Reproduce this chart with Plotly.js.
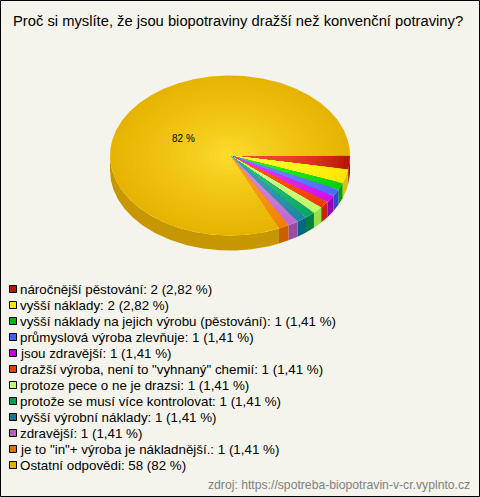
<!DOCTYPE html>
<html><head><meta charset="utf-8">
<script src="https://cdn.plot.ly/plotly-3.0.1.min.js"></script>
<style>html,body{margin:0;padding:0;background:#f4f4ec}#c{width:480px;height:497px}</style>
</head><body><div id="c"></div>
<script>
const categories = ['náročnější pěstování','vyšší náklady','vyšší náklady na jejich výrobu (pěstování)','průmyslová výroba zlevňuje','jsou zdravější','dražší výroba, není to "vyhnaný" chemií','protoze pece o ne je drazsi','protože se musí více kontrolovat','vyšší výrobní náklady','zdravější','je to "in"+ výroba je nákladnější.','Ostatní odpovědi'];
const counts = [2,2,1,1,1,1,1,1,1,1,1,58];
const shares = ['2,82','2,82','1,41','1,41','1,41','1,41','1,41','1,41','1,41','1,41','1,41','82'];
const edgeColors = ['#bb1500','#ffe600','#08d008','#4a6cff','#cc10ec','#f03c00','#c0ff68','#08a860','#1c88a0','#c068d0','#f08000','#e6b400'];
const midColors = ['#ee4a2c','#ffff30','#30ec30','#6a8cff','#e438fa','#ff5a18','#d0ff88','#30c080','#40a0b8','#d488e0','#ffa020','#ffe030'];
const sideColors = ['#a81200','#d8c400','#00a000','#2a48d0','#9c00b4','#c02800','#98e048','#008040','#006880','#9c4ca8','#c86000','#c79700'];
const swatchColors = ['#b81800','#ffe600','#00b800','#4060ff','#c000d8','#e04000','#c0ff70','#00a050','#107890','#b860c0','#e07000','#e6b000'];
const gradientCurve = [2.6,1.7,1.7,1.7,1.7,1.7,1.7,1.7,1.7,1.7,1.7,0.8];
const titleText = 'Proč si myslíte, že jsou biopotraviny dražší než konvenční potraviny?';
const sourceText = 'zdroj: https://spotreba-biopotravin-v-cr.vyplnto.cz';
const pieLabel = '82 %';

const cx=230, cy=155.5, rx=120, ry=80, depth=15, rings=22;
const total = counts.reduce((a,b)=>a+b,0);
function hex(c){return [1,3,5].map(i=>parseInt(c.substr(i,2),16));}
function mix(a,b,t){const A=hex(a),B=hex(b);return 'rgb('+A.map((v,i)=>Math.round(v+(B[i]-v)*t)).join(',')+')';}
function arc(a0,a1,r,dy){const n=Math.max(2,Math.ceil((a1-a0)/0.01));const p=[];for(let i=0;i<=n;i++){const t=a0+(a1-a0)*i/n;p.push([cx+rx*r*Math.cos(t),cy+dy+ry*r*Math.sin(t)]);}return p;}
const traces=[];
function poly(pts,color){traces.push({type:'scatter',mode:'lines',x:pts.map(p=>p[0]),y:pts.map(p=>p[1]),fill:'toself',fillcolor:color,line:{width:0},hoverinfo:'skip',showlegend:false});}
let acc=0; const wedges=counts.map(v=>{const a0=acc/total*2*Math.PI;acc+=v;return [a0,acc/total*2*Math.PI];});
wedges.forEach((w,i)=>{
  const s=Math.max(w[0],0), e=Math.min(w[1],Math.PI);
  if(e>s){const top=arc(s,e,1,0), bot=arc(s,e,1,depth).reverse();poly(top.concat(bot),sideColors[i]);}
});
wedges.forEach((w,i)=>{
  for(let k=rings;k>=1;k--){
    const r=k/rings;
    poly([[cx,cy]].concat(arc(w[0],w[1],r,0)),mix(midColors[i],edgeColors[i],Math.pow(r,gradientCurve[i])));
  }
});
const annotations=[], shapes=[];
function note(text,x,y,size,color,anchor){annotations.push({text:text,x:x,y:y,xref:'x',yref:'y',xanchor:anchor||'left',yanchor:'middle',showarrow:false,font:{family:'Liberation Sans, Arial, sans-serif',size:size,color:color||'#000'},borderpad:0,borderwidth:0});}
categories.forEach((c,i)=>{
  const y=289+16*i;
  shapes.push({type:'rect',xref:'x',yref:'y',x0:9.5,x1:16.5,y0:y-3.5,y1:y+3.5,fillcolor:swatchColors[i],line:{color:'#000',width:1}});
  note(c+': '+counts[i]+' ('+shares[i]+' %)',19.5,y+0.5,13.35);
});
note(titleText,237.5,21,14.75,'#000','center');
note(pieLabel,172,138,10);
note(sourceText,470,485,12.2,'#808080','right');
shapes.push({type:'rect',xref:'x',yref:'y',x0:0.5,x1:479.5,y0:0.5,y1:496.5,line:{color:'#000',width:1},fillcolor:'rgba(0,0,0,0)'});
Plotly.newPlot('c',traces,{
  width:480,height:497,margin:{l:0,r:0,t:0,b:0},
  paper_bgcolor:'#f4f4ec',plot_bgcolor:'#f4f4ec',showlegend:false,
  xaxis:{range:[0,480],visible:false,fixedrange:true},
  yaxis:{range:[497,0],visible:false,fixedrange:true},
  annotations:annotations,shapes:shapes
},{displayModeBar:false,staticPlot:true});
</script></body></html>
